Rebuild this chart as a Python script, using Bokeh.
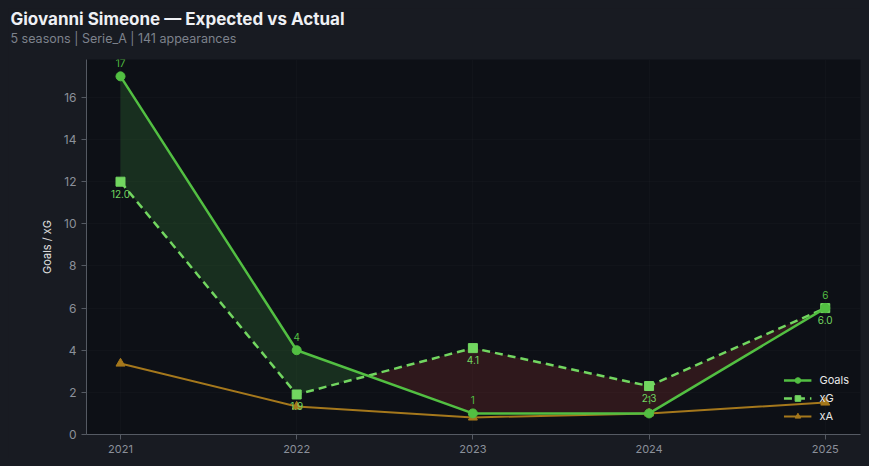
import numpy as np
from bokeh.plotting import figure
from bokeh.models import ColumnDataSource, Title, Legend, LegendItem, Range1d, FixedTicker, LabelSet
from bokeh.core.properties import value
from bokeh.embed import file_html
from bokeh.resources import INLINE

years = [2021, 2022, 2023, 2024, 2025]
goals = [17, 4, 1, 1, 6]
xg = [12.0, 1.9, 4.1, 2.3, 6.0]
xa = [3.37, 1.33, 0.81, 1.0, 1.52]

BG = "#181b22"
PLOT_BG = "#0d1016"
C_GOALS = "#52bf42"
C_XG = "#72d660"
C_XA = "#a5781c"

W, H = 853, 450
p = figure(width=W, height=H, output_backend="svg", toolbar_location=None,
           x_range=Range1d(2020.807, 2025.2), y_range=Range1d(0, 17.8),
           background_fill_color=PLOT_BG, border_fill_color=BG,
           min_border_left=78, min_border_right=1, min_border_bottom=24, min_border_top=51)
p.title = None
p.outline_line_color = None

# spacer panel between the frame and the subtitle (blank, background-coloured)
p.add_layout(Title(text="\u00a0", text_color=BG, text_font_size="1px", standoff=11.2), "above")
p.add_layout(Title(text="5 seasons | Serie_A | 141 appearances", text_color="#7d828c",
                   text_font="Inter", text_font_size="12.5px", text_font_style="normal",
                   offset=-76, standoff=0), "above")
p.add_layout(Title(text="Giovanni Simeone \u2014 Expected vs Actual", text_color="#eef0f4",
                   text_font="Inter", text_font_size="17px", text_font_style="bold",
                   vertical_align="top", offset=-76, standoff=-3.7), "above")

# fill between goals and xG
ex, eg, exg = [], [], []
for i in range(len(years)):
    ex.append(years[i]); eg.append(goals[i]); exg.append(xg[i])
    if i < len(years) - 1:
        d0 = goals[i] - xg[i]
        d1 = goals[i + 1] - xg[i + 1]
        if d0 * d1 < 0:
            t = d0 / (d0 - d1)
            xc = years[i] + t * (years[i + 1] - years[i])
            yc = goals[i] + t * (goals[i + 1] - goals[i])
            ex.append(xc); eg.append(yc); exg.append(yc)
ex = np.array(ex); eg = np.array(eg); exg = np.array(exg)
p.varea(x=ex, y1=exg, y2=np.maximum(eg, exg), fill_color="#2f6b30", fill_alpha=0.35)
p.varea(x=ex, y1=eg, y2=np.maximum(eg, exg), fill_color="#7a2a2a", fill_alpha=0.32)

src = ColumnDataSource(dict(x=years, goals=goals, xg=xg, xa=xa,
                            gl=[str(g) for g in goals], xgl=["%.1f" % v for v in xg]))

l_xa = p.line("x", "xa", source=src, line_color=C_XA, line_width=2)
m_xa = p.scatter("x", "xa", source=src, marker="triangle", size=9, color=C_XA)
l_xg = p.line("x", "xg", source=src, line_color=C_XG, line_width=2.5, line_dash="8 5")
m_xg = p.scatter("x", "xg", source=src, marker="square", size=9, color=C_XG)
l_g = p.line("x", "goals", source=src, line_color=C_GOALS, line_width=2.5)
m_g = p.scatter("x", "goals", source=src, marker="circle", size=9, color=C_GOALS)

p.add_layout(LabelSet(x="x", y="goals", text="gl", source=src, y_offset=9, text_align="center",
                      text_font=value("Inter"), text_font_size="10px", text_color=C_GOALS))
p.add_layout(LabelSet(x="x", y="xg", text="xgl", source=src, y_offset=-8, text_align="center",
                      text_baseline="top", text_font=value("Inter"), text_font_size="10px",
                      text_color=C_XG))

legend = Legend(items=[LegendItem(label="Goals", renderers=[l_g, m_g]),
                       LegendItem(label="xG", renderers=[l_xg, m_xg]),
                       LegendItem(label="xA", renderers=[l_xa, m_xa])],
                location="bottom_right", background_fill_alpha=0, border_line_alpha=0,
                label_text_color="#e8e8e8", label_text_font="Inter", label_text_font_size="11px",
                glyph_width=28, label_height=14, glyph_height=14, spacing=4, margin=5,
                padding=6, label_standoff=8)
p.add_layout(legend)

for ax in (p.xaxis, p.yaxis):
    ax.axis_line_color = "#555a63"
    ax.major_tick_line_color = "#555a63"
    ax.minor_tick_line_color = None
    ax.major_label_text_color = "#8b909a"
    ax.major_label_text_font = "Inter"
    ax.major_tick_out = 5
    ax.major_tick_in = 0
p.xaxis.major_label_text_font_size = "11px"
p.yaxis.major_label_text_font_size = "12px"
p.xaxis.ticker = FixedTicker(ticks=years)
p.yaxis.ticker = FixedTicker(ticks=[0, 2, 4, 6, 8, 10, 12, 14, 16])
p.yaxis.axis_label = "Goals / xG"
p.yaxis.axis_label_text_color = "#e0e0e0"
p.yaxis.axis_label_text_font = "Inter"
p.yaxis.axis_label_text_font_size = "11px"
p.yaxis.axis_label_text_font_style = "normal"
p.yaxis.axis_label_standoff = 7

p.xgrid.grid_line_color = "#ffffff"
p.xgrid.grid_line_alpha = 0.02
p.ygrid.grid_line_color = "#ffffff"
p.ygrid.grid_line_alpha = 0.02

html = file_html(p, INLINE)
html = html.replace("</head>", "<style>body{background:%s;margin:8px;}</style></head>" % BG, 1)
open("out.html", "w").write(html)
